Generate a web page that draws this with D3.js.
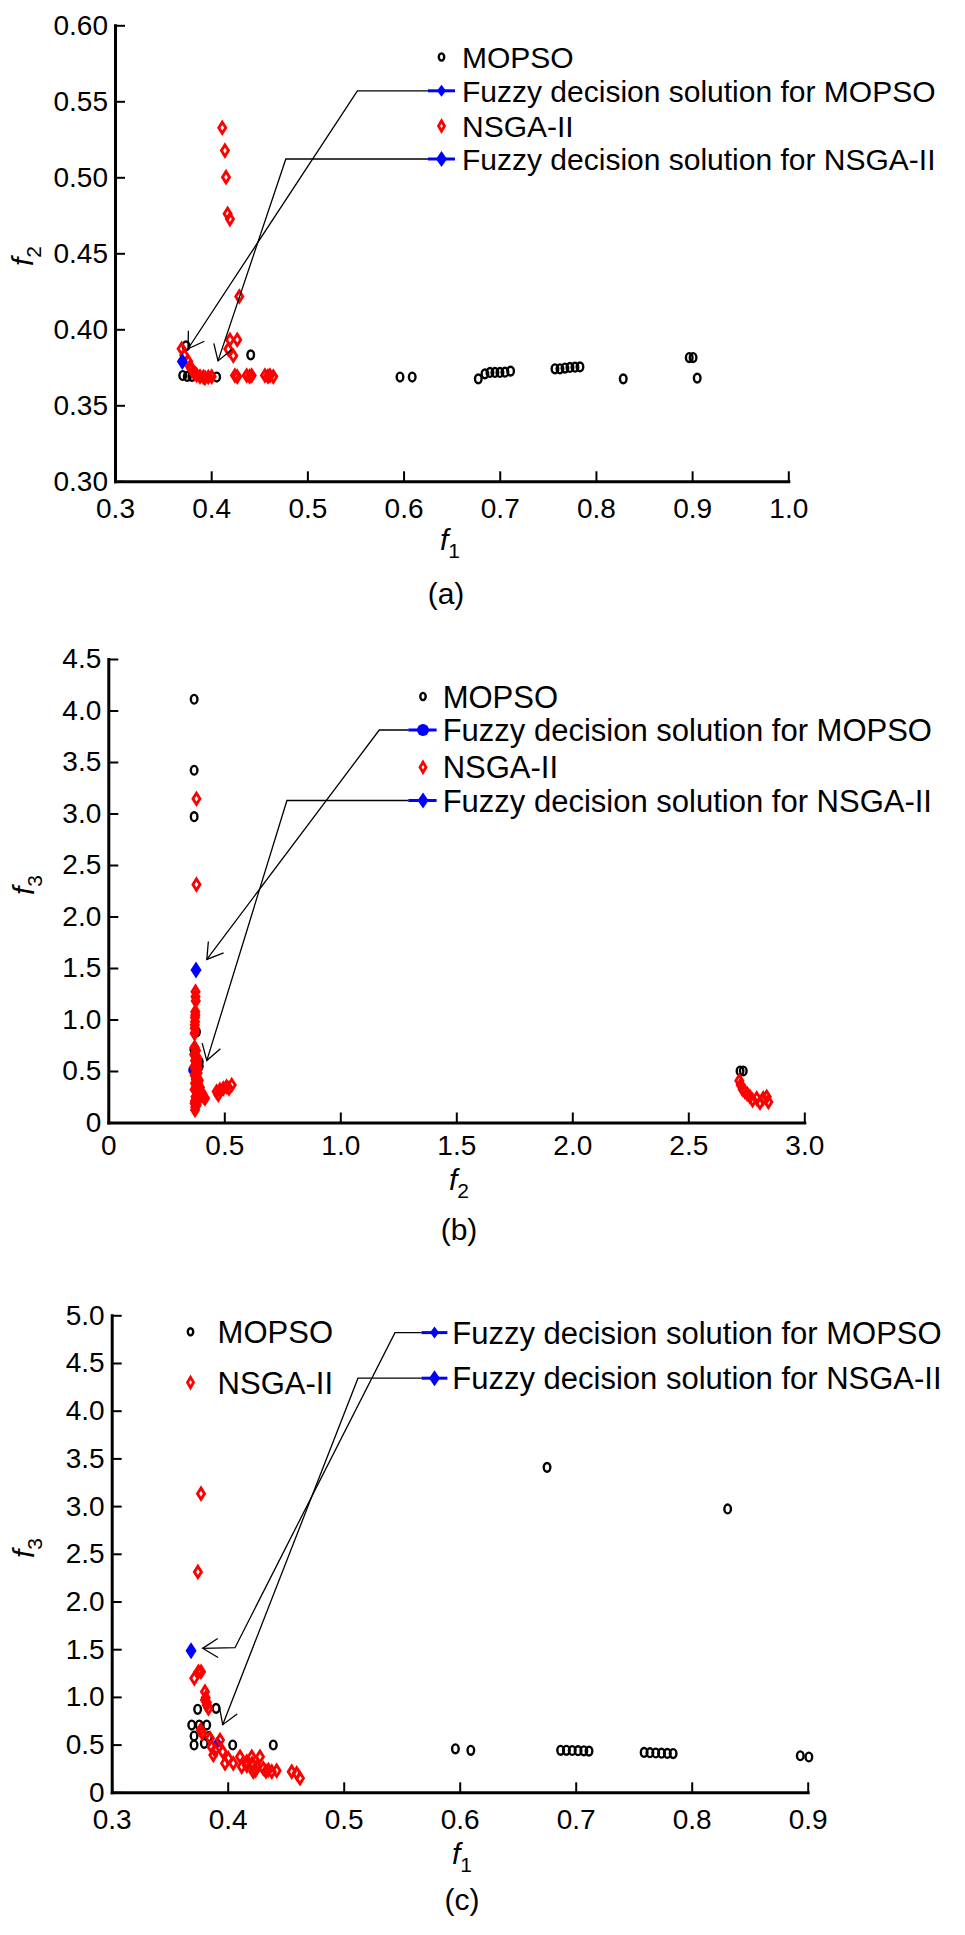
<!DOCTYPE html>
<html lang="en">
<head>
<meta charset="UTF-8">
<title>MOPSO vs NSGA-II Pareto fronts</title>
<script src="https://cdn.jsdelivr.net/npm/d3@7"></script>
<style>
  body { margin: 0; background: #fff; }
  svg { font-family: "Liberation Sans", Arial, sans-serif; }
  .axis path.domain { stroke: #000; stroke-width: 3; stroke-linecap: square; }
  .axis .tick line { stroke: #000; stroke-width: 2; }
  .axis text { font-size: 28px; fill: #000; }
  .mopso { fill: none; stroke: #000; stroke-width: 2.4; }
  .nsga { fill: none; stroke: #ff0000; stroke-width: 2.9; }
  .fuzzy { fill: #0000ff; }
  .leader { fill: none; stroke: #000; stroke-width: 1.3; }
  .legend text { fill: #000; }
  .label, .caption { font-size: 30px; fill: #000; }
</style>
</head>
<body>
<script>

// ---- panel (a): f1 vs f2 ----
var ticksAx = [0.3, 0.4, 0.5, 0.6, 0.7, 0.8, 0.9, 1.0];
var ticksAy = [0.30, 0.35, 0.40, 0.45, 0.50, 0.55, 0.60];
var mopsoA = [
  [0.3704, 0.3696], [0.3752, 0.3690], [0.3738, 0.3891], [0.3800, 0.3690], [0.4057, 0.3686],
  [0.4411, 0.3832], [0.5963, 0.3686], [0.6090, 0.3686], [0.6777, 0.3674], [0.6846, 0.3707],
  [0.6898, 0.3716], [0.6950, 0.3716], [0.7002, 0.3716], [0.7054, 0.3718], [0.7113, 0.3725],
  [0.7574, 0.3740], [0.7626, 0.3740], [0.7678, 0.3745], [0.7730, 0.3749], [0.7782, 0.3751],
  [0.7834, 0.3753], [0.8284, 0.3674], [0.8970, 0.3814], [0.9010, 0.3814], [0.9053, 0.3679]
];
var nsgaA = [
  [0.4115, 0.5326], [0.4143, 0.5176], [0.4154, 0.5001], [0.4171, 0.4760], [0.4195, 0.4725],
  [0.4292, 0.4216], [0.4195, 0.3931], [0.4271, 0.3931], [0.4178, 0.3870], [0.4230, 0.3826],
  [0.3693, 0.3872], [0.3720, 0.3830], [0.3762, 0.3788], [0.3780, 0.3755], [0.3795, 0.3740],
  [0.3814, 0.3722], [0.3830, 0.3710], [0.3849, 0.3700], [0.3884, 0.3689], [0.3918, 0.3686],
  [0.3935, 0.3680], [0.3970, 0.3686], [0.4005, 0.3689], [0.4247, 0.3696], [0.4271, 0.3689],
  [0.4369, 0.3696], [0.4400, 0.3690], [0.4421, 0.3696], [0.4559, 0.3696], [0.4590, 0.3690],
  [0.4611, 0.3696], [0.4646, 0.3689]
];
var fuzzyMopsoA = [[0.3936, 0.3689]];
var fuzzyNsgaA = [[0.3700, 0.3788]];

// ---- panel (b): f2 vs f3 ----
var ticksBx = [0, 0.5, 1.0, 1.5, 2.0, 2.5, 3.0];
var ticksBy = [0, 0.5, 1.0, 1.5, 2.0, 2.5, 3.0, 3.5, 4.0, 4.5];
var mopsoB = [
  [0.370, 4.109], [0.370, 3.420], [0.370, 2.969], [0.369, 0.711], [0.372, 0.670],
  [0.392, 0.590], [0.392, 0.545], [0.370, 0.500], [0.375, 0.450], [0.380, 0.880],
  [2.723, 0.500], [2.737, 0.500]
];
var nsgaB = [
  [0.380, 3.143], [0.380, 2.310], [0.376, 1.270], [0.376, 1.220], [0.377, 1.180],
  [0.375, 1.076], [0.375, 1.044], [0.374, 1.020], [0.374, 0.979], [0.373, 0.947],
  [0.373, 0.914], [0.372, 0.866], [0.372, 0.730], [0.378, 0.700], [0.370, 0.660],
  [0.380, 0.640], [0.374, 0.600], [0.382, 0.575], [0.371, 0.540], [0.378, 0.510],
  [0.385, 0.480], [0.372, 0.460], [0.380, 0.445], [0.390, 0.410], [0.374, 0.380],
  [0.383, 0.360], [0.395, 0.340], [0.372, 0.320], [0.380, 0.300], [0.405, 0.280],
  [0.376, 0.250], [0.417, 0.235], [0.374, 0.210], [0.372, 0.186], [0.375, 0.150],
  [0.374, 0.121], [0.384, 0.620], [0.376, 0.560], [0.386, 0.525], [0.377, 0.420],
  [0.387, 0.390], [0.378, 0.345], [0.388, 0.275], [0.380, 0.230], [0.381, 0.170],
  [0.396, 0.300], [0.400, 0.260], [0.410, 0.250],
  [0.467, 0.300], [0.474, 0.270], [0.481, 0.316], [0.496, 0.330],
  [0.510, 0.348], [0.520, 0.330], [0.532, 0.364], [2.720, 0.406], [2.726, 0.364],
  [2.734, 0.322], [2.744, 0.300], [2.754, 0.277], [2.766, 0.250], [2.777, 0.218],
  [2.795, 0.235], [2.809, 0.192], [2.823, 0.235], [2.838, 0.250], [2.845, 0.200]
];
var fuzzyMopsoB = [[0.368, 0.510]];
var fuzzyNsgaB = [[0.378, 1.481]];

// ---- panel (c): f1 vs f3 ----
var ticksCx = [0.3, 0.4, 0.5, 0.6, 0.7, 0.8, 0.9];
var ticksCy = [0, 0.5, 1.0, 1.5, 2.0, 2.5, 3.0, 3.5, 4.0, 4.5, 5.0];
var mopsoC = [
  [0.3741, 0.870], [0.3900, 0.880], [0.3690, 0.705], [0.3755, 0.705], [0.3819, 0.705],
  [0.3710, 0.590], [0.3710, 0.496], [0.3798, 0.513], [0.3833, 0.583], [0.4043, 0.496],
  [0.4393, 0.496], [0.5963, 0.456], [0.6096, 0.440], [0.6753, 3.406], [0.6870, 0.440],
  [0.6920, 0.440], [0.6970, 0.438], [0.7020, 0.436], [0.7070, 0.435], [0.7115, 0.432],
  [0.7590, 0.418], [0.7640, 0.415], [0.7690, 0.412], [0.7740, 0.410], [0.7790, 0.408],
  [0.7840, 0.406], [0.8310, 2.970], [0.8936, 0.383], [0.9010, 0.370]
];
var nsgaC = [
  [0.3770, 3.130], [0.3743, 2.310], [0.3712, 1.195], [0.3747, 1.264], [0.3770, 1.264],
  [0.3804, 1.055], [0.3810, 0.990], [0.3804, 0.967], [0.3820, 0.940], [0.3819, 0.915],
  [0.3834, 0.880], [0.3767, 0.653], [0.3780, 0.620], [0.3847, 0.566], [0.3860, 0.478],
  [0.3876, 0.391], [0.3890, 0.440], [0.3934, 0.548], [0.3957, 0.426], [0.3977, 0.304],
  [0.4005, 0.356], [0.4048, 0.304], [0.4106, 0.373], [0.4121, 0.268], [0.4164, 0.321],
  [0.4165, 0.280], [0.4207, 0.373], [0.4210, 0.300], [0.4221, 0.216], [0.4240, 0.230],
  [0.4250, 0.268], [0.4278, 0.373], [0.4307, 0.250], [0.4330, 0.220], [0.4350, 0.234],
  [0.4380, 0.216], [0.4422, 0.227], [0.4552, 0.216], [0.4595, 0.199], [0.4623, 0.147]
];
var fuzzyMopsoC = [[0.3910, 0.520]];
var fuzzyNsgaC = [[0.3684, 1.484]];

var legendNames = {
  mopso: "MOPSO",
  fuzzyM: "Fuzzy decision solution for MOPSO",
  nsga: "NSGA-II",
  fuzzyN: "Fuzzy decision solution for NSGA-II"
};

var fmt1 = function(d) { return d === 0 ? "0" : d3.format(".1f")(d); };

var panels = [
  {
    xDomain: [0.3, 1.0], yDomain: [0.30, 0.60], xRange: [115, 788.3], yRange: [481.3, 25.3],
    xTicks: ticksAx, yTicks: ticksAy, xFmt: d3.format(".1f"), yFmt: d3.format(".2f"), xPad: 17,
    mopso: mopsoA, nsga: nsgaA, fuzzyM: fuzzyMopsoA, fuzzyN: fuzzyNsgaA, mopsoFuzzyShape: "diamond",
    xSub: "1", ySub: "2", xLab: [450, 550], yLab: [25, 256], caption: "(a)", capPos: [446, 604],
    legend: { font: 30, mx: 441.5, lx: [428, 455], tx: 462,
      rows: [["mopso", 57], ["fuzzyM", 90.8], ["nsga", 126], ["fuzzyN", 159]] },
    arrows: [ { pts: [[0.3759, 0.3872], [0.552, 0.5569]], row: 1 },
              { pts: [[0.4071, 0.3792], [0.4776, 0.5130]], row: 3 } ]
  },
  {
    xDomain: [0, 3.0], yDomain: [0, 4.5], xRange: [108.3, 804.3], yRange: [1122.5, 659],
    xTicks: ticksBx, yTicks: ticksBy, xFmt: fmt1, yFmt: fmt1, xPad: 13,
    mopso: mopsoB, nsga: nsgaB, fuzzyM: fuzzyMopsoB, fuzzyN: fuzzyNsgaB, mopsoFuzzyShape: "circle",
    xSub: "2", ySub: "3", xLab: [459, 1190], yLab: [26, 885], caption: "(b)", capPos: [459, 1240],
    legend: { font: 31, mx: 423, lx: [408.3, 436.6], tx: 442.7,
      rows: [["mopso", 696.5], ["fuzzyM", 730], ["nsga", 767.3], ["fuzzyN", 800.5]] },
    arrows: [ { pts: [[0.4246, 1.583], [1.168, 3.811]], row: 1 },
              { pts: [[0.4246, 0.601], [0.770, 3.126]], row: 3 } ]
  },
  {
    xDomain: [0.3, 0.9], yDomain: [0, 5.0], xRange: [111.7, 807.7], yRange: [1792.3, 1315.3],
    xTicks: ticksCx, yTicks: ticksCy, xFmt: d3.format(".1f"), yFmt: fmt1, xPad: 17,
    mopso: mopsoC, nsga: nsgaC, fuzzyM: fuzzyMopsoC, fuzzyN: fuzzyNsgaC, mopsoFuzzyShape: "diamond",
    xSub: "1", ySub: "3", xLab: [462, 1864], yLab: [26, 1548], caption: "(c)", capPos: [462, 1910],
    legend: { font: 31,
      rows: [["mopso", 1331.8, 190.5, 217.6], ["nsga", 1382.4, 190.5, 217.6],
             ["fuzzyM", 1332.6, 434.5, 452.3], ["fuzzyN", 1378.2, 434.5, 452.3]],
      lx: [421.5, 447.4] },
    arrows: [ { pts: [[0.3784, 1.509], [0.4063, 1.516], [0.5442, 4.819]], row: 2 },
              { pts: [[0.3957, 0.709], [0.5123, 4.341]], row: 3 } ]
  }
];

var svg = d3.select("body").append("svg")
  .attr("width", 965)
  .attr("height", 1935);

// marker helpers
function ellipseMark(g, x, y, rx, ry) {
  g.append("ellipse").attr("class", "mopso")
    .attr("cx", x).attr("cy", y).attr("rx", rx).attr("ry", ry);
}
function diamondPath(hw, hh) {
  return "M0," + (-hh) + "L" + hw + ",0L0," + hh + "L" + (-hw) + ",0Z";
}

panels.forEach(function(p) {
  var x = d3.scaleLinear().domain(p.xDomain).range(p.xRange);
  var y = d3.scaleLinear().domain(p.yDomain).range(p.yRange);
  var g = svg.append("g");

  // axes with inward ticks
  g.append("g").attr("class", "axis")
    .attr("transform", "translate(0," + p.yRange[0] + ")")
    .call(d3.axisBottom(x).tickValues(p.xTicks).tickFormat(p.xFmt)
      .tickSizeInner(-10).tickSizeOuter(0).tickPadding(p.xPad));
  g.append("g").attr("class", "axis")
    .attr("transform", "translate(" + p.xRange[0] + ",0)")
    .call(d3.axisLeft(y).tickValues(p.yTicks).tickFormat(p.yFmt)
      .tickSizeInner(-10).tickSizeOuter(0).tickPadding(7));
  g.selectAll(".axis text").attr("font-family", null);

  // axis labels f_n
  var xl = g.append("text").attr("class", "label")
    .attr("x", p.xLab[0]).attr("y", p.xLab[1]).attr("text-anchor", "middle");
  xl.append("tspan").attr("font-style", "italic").text("f");
  xl.append("tspan").attr("font-size", 21).attr("dy", 8).text(p.xSub);

  var yl = g.append("text").attr("class", "label")
    .attr("transform", "translate(" + (p.yLab[0] + 8) + "," + p.yLab[1] + ") rotate(-90)")
    .attr("text-anchor", "middle");
  yl.append("tspan").attr("font-style", "italic").text("f");
  yl.append("tspan").attr("font-size", 21).attr("dy", 8).text(p.ySub);

  g.append("text").attr("class", "caption")
    .attr("x", p.capPos[0]).attr("y", p.capPos[1]).attr("text-anchor", "middle")
    .text(p.caption);

  // points
  var pts = g.append("g");
  p.mopso.forEach(function(d) { ellipseMark(pts, x(d[0]), y(d[1]), 3.3, 4.4); });

  p.fuzzyM.forEach(function(d) {
    if (p.mopsoFuzzyShape === "circle") {
      pts.append("circle").attr("class", "fuzzy").attr("cx", x(d[0])).attr("cy", y(d[1])).attr("r", 5.5);
    } else {
      pts.append("path").attr("class", "fuzzy").attr("d", diamondPath(4.5, 6.5))
        .attr("transform", "translate(" + x(d[0]) + "," + y(d[1]) + ")");
    }
  });

  pts.selectAll("path.nsga").data(p.nsga).enter().append("path")
    .attr("class", "nsga")
    .attr("d", diamondPath(3.5, 5.6))
    .attr("transform", function(d) { return "translate(" + x(d[0]) + "," + y(d[1]) + ")"; });

  p.fuzzyN.forEach(function(d) {
    pts.append("path").attr("class", "fuzzy").attr("d", diamondPath(5.5, 8.5))
      .attr("transform", "translate(" + x(d[0]) + "," + y(d[1]) + ")");
  });

  // legend
  var lg = g.append("g").attr("class", "legend");
  var rowInfo = p.legend.rows.map(function(r) {
    return { key: r[0], y: r[1], mx: r[2] !== undefined ? r[2] : p.legend.mx, tx: r[3] !== undefined ? r[3] : p.legend.tx };
  });
  rowInfo.forEach(function(r) {
    if (r.key === "mopso") {
      lg.append("ellipse").attr("cx", r.mx).attr("cy", r.y).attr("rx", 2.7).attr("ry", 3.6)
        .attr("fill", "none").attr("stroke", "#000").attr("stroke-width", 2.4);
    } else if (r.key === "nsga") {
      lg.append("path").attr("d", diamondPath(3, 5.2)).attr("fill", "none")
        .attr("stroke", "#ff0000").attr("stroke-width", 2.8)
        .attr("transform", "translate(" + r.mx + "," + r.y + ")");
    } else {
      lg.append("line").attr("x1", p.legend.lx[0]).attr("x2", p.legend.lx[1])
        .attr("y1", r.y).attr("y2", r.y).attr("stroke", "#0000ff").attr("stroke-width", 3);
      var mk = (r.key === "fuzzyM") ? (p.mopsoFuzzyShape === "circle" ? null : diamondPath(4.5, 6)) : diamondPath(5.5, 8);
      if (mk) {
        lg.append("path").attr("class", "fuzzy").attr("d", mk)
          .attr("transform", "translate(" + r.mx + "," + r.y + ")");
      } else {
        lg.append("circle").attr("class", "fuzzy").attr("cx", r.mx).attr("cy", r.y).attr("r", 6);
      }
    }
    lg.append("text").attr("x", r.tx).attr("y", r.y + p.legend.font * 0.36)
      .attr("font-size", p.legend.font).text(legendNames[r.key]);
  });

  // leader lines with open arrowheads
  p.arrows.forEach(function(a) {
    var row = rowInfo[a.row];
    var path = a.pts.map(function(d) { return [x(d[0]), y(d[1])]; });
    path[path.length - 1][1] = row.y;
    path.push([p.legend.lx[0], row.y]);
    g.append("path").attr("class", "leader").attr("d", d3.line()(path));

    var tip = path[0], nxt = path[1];
    var ang = Math.atan2(nxt[1] - tip[1], nxt[0] - tip[0]);
    var len = 18, spread = 32 * Math.PI / 180;
    var head = [
      [tip[0] + len * Math.cos(ang - spread), tip[1] + len * Math.sin(ang - spread)],
      tip,
      [tip[0] + len * Math.cos(ang + spread), tip[1] + len * Math.sin(ang + spread)]
    ];
    g.append("path").attr("class", "leader").attr("d", d3.line()(head));
  });
});

</script>
</body>
</html>
